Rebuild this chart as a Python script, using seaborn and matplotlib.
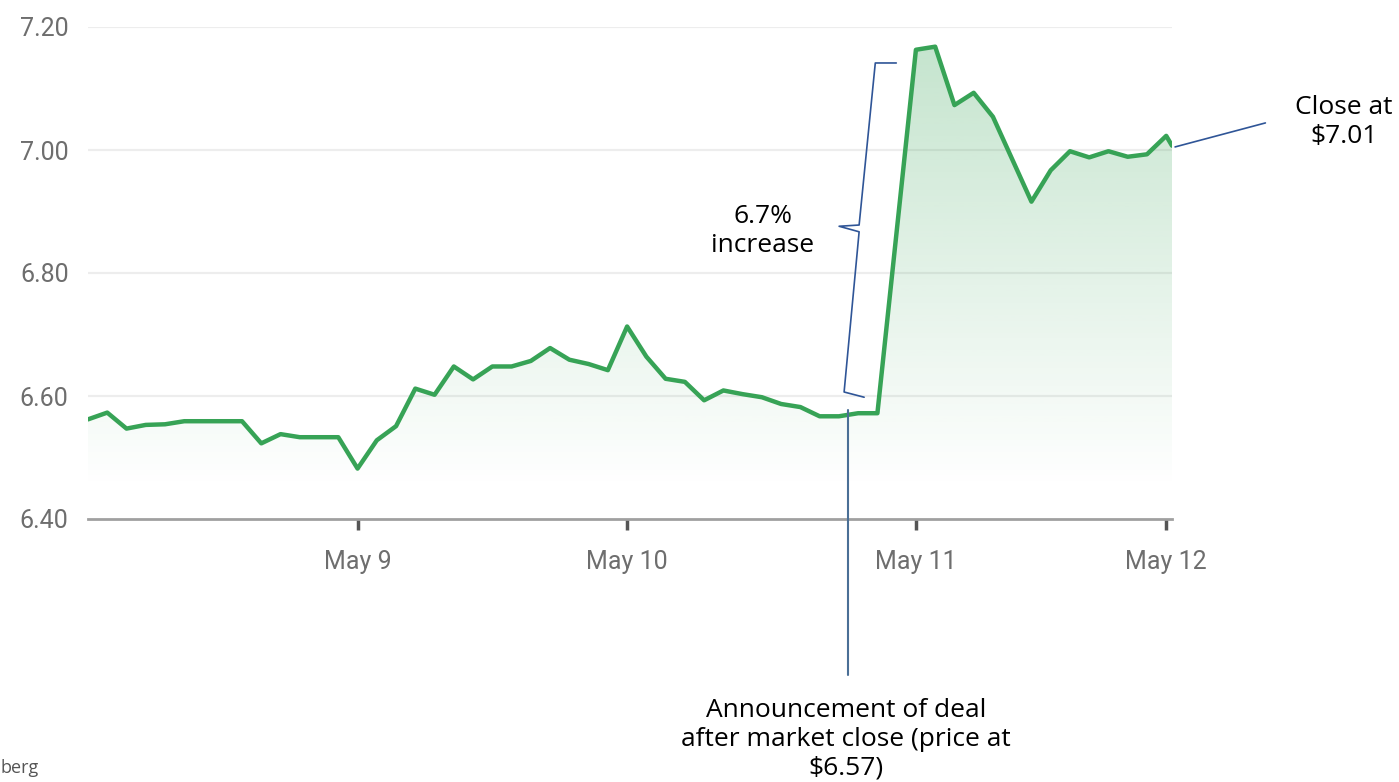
import numpy as np
import matplotlib
matplotlib.use("Agg")
import matplotlib.pyplot as plt
import seaborn as sns

# =============================================================================
# DATA (30-minute intervals)
# =============================================================================

interval_idx = [0, 1, 2, 3, 4, 5, 6, 7, 8, 9,
                10, 11, 12, 13, 14, 15, 16, 17, 18, 19,
                20, 21, 22, 23, 24, 25, 26, 27, 28, 29,
                30, 31, 32, 33, 34, 35, 36, 37, 38, 39,
                40, 41, 43, 44, 45, 46, 47, 49,
                50, 51, 52, 53, 54, 55, 56, 56.3]
price = [6.562, 6.573, 6.547, 6.553, 6.554, 6.559, 6.559, 6.559, 6.559, 6.523,
         6.538, 6.533, 6.533, 6.533, 6.482, 6.528, 6.551, 6.612, 6.602, 6.648,
         6.627, 6.648, 6.648, 6.657, 6.678, 6.659, 6.652, 6.642, 6.713, 6.664,
         6.628, 6.623, 6.593, 6.609, 6.603, 6.598, 6.587, 6.582, 6.567, 6.567,
         6.572, 6.572, 7.163, 7.168, 7.073, 7.093, 7.054, 6.916,
         6.967, 6.998, 6.988, 6.998, 6.989, 6.993, 7.023, 7.007]

day_ticks = [14, 28, 43, 56]
day_labels = ["May 9", "May 10", "May 11", "May 12"]
price_ticks = [6.40, 6.60, 6.80, 7.00, 7.20]

LINE_COLOR = "#37a356"
NOTE_COLOR = "#2f5597"
Y_MIN, Y_MAX = 6.40, 7.20

# =============================================================================
# PLOT
# =============================================================================

sns.set_theme(style="white")
plt.rcParams["font.family"] = ["Roboto", "DejaVu Sans"]

fig = plt.figure(figsize=(13.99, 7.82), dpi=100)
ax = fig.add_axes([88 / 1399, 263 / 782, 1084 / 1399, 492 / 782])

sns.lineplot(x=interval_idx, y=price, color=LINE_COLOR, linewidth=3.2,
             ax=ax, zorder=4)

# gradient fill under the line
x0, x1 = interval_idx[0], interval_idx[-1]
area = ax.fill_between(interval_idx, price, Y_MIN, color="none", lw=0)
top = max(price)
grad = np.zeros((256, 1, 4))
grad[..., :3] = matplotlib.colors.to_rgb(LINE_COLOR)
ys = np.linspace(Y_MIN, top, 256)
grad[:, 0, 3] = np.clip(0.29 * (ys - 6.45) / (top - 6.45), 0, None)
img = ax.imshow(grad, extent=[x0, x1, Y_MIN, top], origin="lower",
                aspect="auto", zorder=2, interpolation="bilinear")
img.set_clip_path(area.get_paths()[0], transform=ax.transData)

ax.set_xlim(x0, x1)
ax.set_ylim(Y_MIN, Y_MAX)

# grid and axes styling
for v in price_ticks[1:]:
    ax.axhline(v, color="#ededed", lw=1.6, zorder=1)
for side in ["top", "right", "left"]:
    ax.spines[side].set_visible(False)
ax.spines["bottom"].set_color("#a0a0a0")
ax.spines["bottom"].set_linewidth(2)

ax.set_yticks(price_ticks)
ax.set_yticklabels([f"{v:.2f}" for v in price_ticks])
ax.set_xticks(day_ticks)
ax.set_xticklabels(day_labels)
ax.tick_params(axis="y", length=0, pad=14, labelsize=18, labelcolor="#6e6e6e")
ax.tick_params(axis="x", bottom=True, length=8, width=2.5, color="#555555",
               direction="out", pad=14, labelsize=18, labelcolor="#6e6e6e")
ax.set_xlabel("")
ax.set_ylabel("")

# =============================================================================
# ANNOTATIONS
# =============================================================================

note_font = ["Open Sans", "DejaVu Sans"]
note_size = 19

# brace marking the jump
brace_x = [41.98, 40.89, 40.05, 39.01, 40.05, 39.27, 40.31]
brace_y = [7.1415, 7.1415, 6.878, 6.876, 6.867, 6.6065, 6.598]
ax.plot(brace_x, brace_y, color=NOTE_COLOR, lw=1.2, zorder=5, clip_on=False)
fig.text(763 / 1399, 1 - 231 / 782, "6.7%\nincrease", ha="center", va="center",
         fontsize=note_size, family=note_font, color="black", linespacing=1.2)

# close callout
ax.plot([56.46, 61.15], [7.005, 7.044], color=NOTE_COLOR, lw=1.2,
        clip_on=False, zorder=5)
fig.text(1344 / 1399, 1 - 122 / 782, "Close at\n$7.01", ha="center", va="center",
         fontsize=note_size, family=note_font, color="black", linespacing=1.2)

# announcement callout
ax.plot([39.48, 39.48], [6.577, 6.146], color="#4a6f96", lw=1.5,
        clip_on=False, zorder=5)
fig.text(846 / 1399, 1 - 739 / 782,
         "Announcement of deal\nafter market close (price at\n$6.57)",
         ha="center", va="center", fontsize=note_size, family=note_font,
         color="black", linespacing=1.2)

# source tag at the lower left edge
fig.text(0, 1 - 768 / 782, "berg", ha="left", va="center",
         fontsize=13, family=note_font, color="#555555")

fig.savefig("out.png", dpi=100)
